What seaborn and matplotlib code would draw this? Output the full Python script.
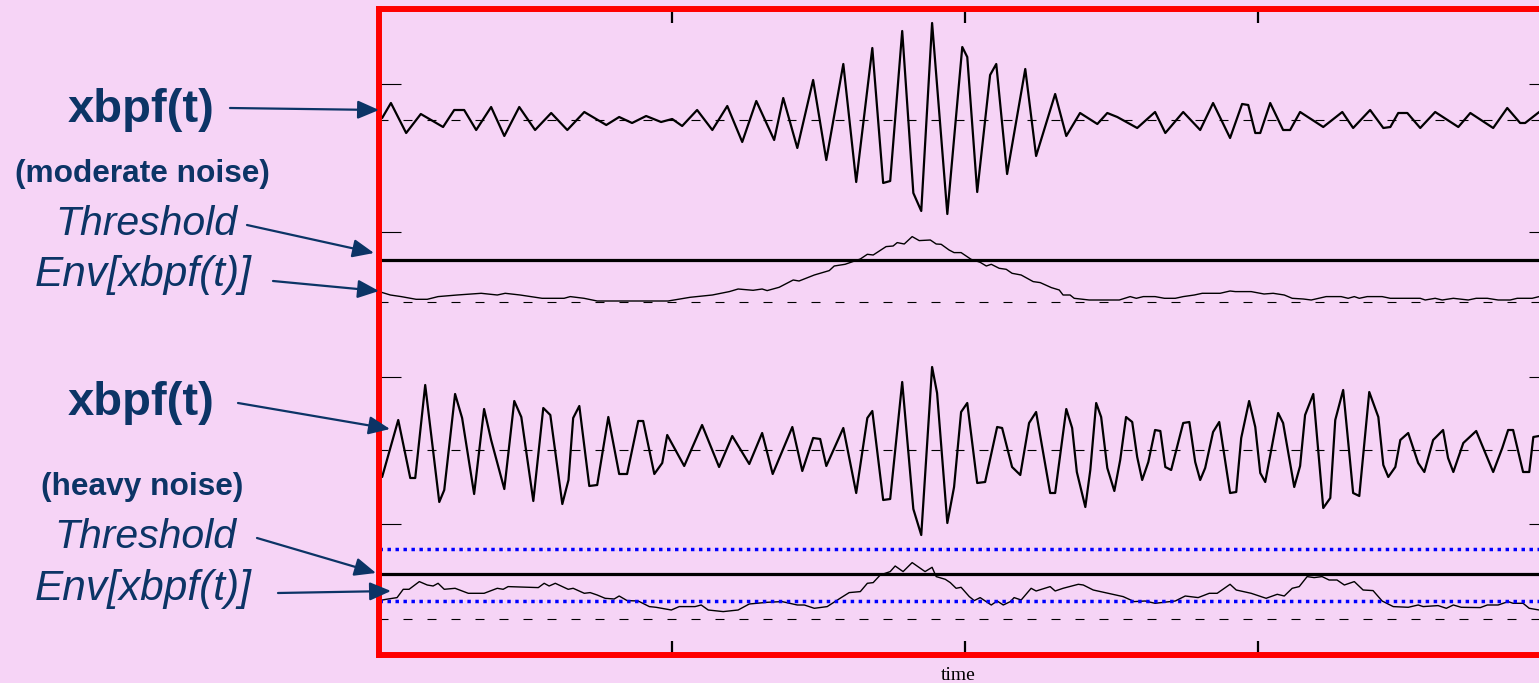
"""
Envelope detector demo: band-passed signal, its envelope and the detection
threshold, for moderate and heavy noise.
"""

import numpy as np
import matplotlib
matplotlib.use('Agg')
import matplotlib.pyplot as plt
from matplotlib.patches import FancyArrowPatch
import seaborn as sns

# =====================================================
# DATA (time in ms, amplitudes relative to each trace baseline)
# =====================================================

TIME_TICKS = [100, 200, 300]
Y_TICKS = [1.307, 2.777, 4.232, 5.704]

BASE_SIG1 = 5.347   # xbpf(t), moderate noise
BASE_ENV1 = 3.524   # Env[xbpf(t)], moderate noise
BASE_SIG2 = 2.047   # xbpf(t), heavy noise
BASE_ENV2 = 0.354   # Env[xbpf(t)], heavy noise

THRESH1 = 0.42
THRESH2 = 0.45
NOISE_HI = 0.70
NOISE_LO = 0.18

SIG1_T = [1.0, 4.0, 9.2, 14.2, 21.8, 25.6, 29.0, 33.1, 38.2, 42.7,
          47.8, 53.2, 58.7, 64.2, 70.0, 77.5, 81.9, 86.3, 91.1, 96.2,
          100.0, 103.4, 108.5, 113.7, 118.8, 123.9, 128.7, 134.8, 137.9, 142.7,
          148.1, 152.6, 158.4, 162.8, 168.3, 172.0, 174.4, 178.5, 182.3, 185.0,
          188.7, 193.9, 199.0, 200.7, 204.1, 208.5, 210.6, 214.3, 220.5, 224.2,
          230.7, 234.5, 239.2, 245.1, 248.5, 251.9, 258.7, 264.8, 268.3, 274.4,
          280.2, 284.6, 290.4, 294.5, 296.6, 299.0, 300.7, 304.1, 308.5, 310.9,
          314.3, 322.2, 328.7, 332.4, 338.2, 342.7, 345.1, 347.8, 350.9, 355.3,
          360.4, 368.3, 372.4, 380.2, 385.0, 389.4, 391.1, 395.9, 400.3]
SIG1_V = [0.02, 0.17, -0.13, 0.06, -0.07, 0.10, 0.10, -0.10, 0.13, -0.16,
          0.13, -0.10, 0.07, -0.10, 0.08, -0.05, 0.03, -0.03, 0.04, -0.02,
          0.01, -0.06, 0.10, -0.10, 0.14, -0.22, 0.19, -0.20, 0.22, -0.28,
          0.40, -0.40, 0.56, -0.62, 0.72, -0.63, -0.61, 0.89, -0.73, -0.91,
          0.97, -0.94, 0.73, 0.63, -0.72, 0.45, 0.56, -0.54, 0.51, -0.36,
          0.26, -0.16, 0.07, -0.04, 0.07, 0.03, -0.08, 0.08, -0.13, 0.08,
          -0.10, 0.17, -0.18, 0.16, 0.15, -0.13, -0.13, 0.17, -0.10, -0.10,
          0.08, -0.07, 0.08, -0.08, 0.10, -0.08, -0.07, 0.07, 0.07, -0.08,
          0.08, -0.07, 0.07, -0.08, 0.12, -0.03, -0.03, 0.08, 0.0]

ENV1_T = [0.0, 3.8, 7.5, 12.6, 16.4, 20.1, 26.6, 34.8, 40.3, 43.0,
          48.1, 55.6, 63.1, 65.2, 69.9, 74.4, 98.6, 106.1, 113.7, 119.5,
          122.5, 127.6, 130.7, 132.4, 136.5, 141.3, 143.3, 148.5, 153.6, 155.3,
          159.0, 164.2, 166.6, 168.6, 173.0, 175.4, 176.8, 179.2, 181.9, 184.3,
          188.1, 190.1, 191.8, 194.5, 196.2, 198.6, 202.0, 205.1, 207.2, 208.9,
          211.6, 214.0, 216.0, 219.1, 223.2, 225.6, 229.4, 232.1, 233.4, 235.8,
          237.2, 242.3, 252.6, 256.3, 258.4, 260.8, 264.8, 268.0, 271.7, 274.4,
          278.2, 280.9, 287.0, 290.4, 292.2, 297.6, 302.0, 305.1, 308.9, 311.6,
          315.4, 318.1, 323.2, 328.3, 330.7, 332.8, 334.5, 337.2, 342.3, 345.1,
          355.3, 357.0, 360.4, 362.8, 366.6, 371.7, 374.4, 378.2, 381.9, 386.0,
          388.4, 393.5, 395.9, 400.3]
ENV1_V = [0.107, 0.073, 0.057, 0.030, 0.030, 0.057, 0.073, 0.090, 0.073, 0.090,
          0.073, 0.040, 0.040, 0.057, 0.040, 0.013, 0.013, 0.050, 0.073, 0.107,
          0.133, 0.120, 0.133, 0.117, 0.150, 0.223, 0.213, 0.273, 0.317, 0.363,
          0.380, 0.433, 0.480, 0.473, 0.557, 0.563, 0.597, 0.583, 0.657, 0.617,
          0.623, 0.583, 0.580, 0.523, 0.497, 0.497, 0.430, 0.400, 0.363, 0.380,
          0.340, 0.330, 0.290, 0.273, 0.207, 0.197, 0.147, 0.123, 0.073, 0.073,
          0.040, 0.023, 0.023, 0.057, 0.040, 0.057, 0.057, 0.040, 0.040, 0.057,
          0.073, 0.090, 0.090, 0.113, 0.107, 0.107, 0.083, 0.090, 0.073, 0.040,
          0.033, 0.023, 0.057, 0.057, 0.040, 0.057, 0.040, 0.057, 0.057, 0.040,
          0.040, 0.023, 0.040, 0.023, 0.040, 0.023, 0.040, 0.040, 0.023, 0.023,
          0.040, 0.040, 0.057, 0.050]

SIG2_T = [1.0, 6.5, 10.6, 12.3, 15.7, 20.5, 22.2, 25.9, 28.3, 32.4,
          35.8, 38.2, 42.7, 46.1, 48.5, 52.6, 56.0, 58.4, 62.5, 64.6,
          66.2, 68.3, 71.7, 74.4, 78.2, 81.9, 84.6, 88.4, 90.1, 93.9,
          96.6, 98.3, 104.1, 110.2, 116.0, 120.5, 126.3, 130.7, 134.3, 141.0,
          144.4, 148.1, 150.5, 152.6, 158.4, 162.8, 166.6, 168.3, 172.0, 174.4,
          178.5, 182.3, 185.0, 188.7, 190.4, 193.9, 196.2, 198.6, 200.7, 204.1,
          206.8, 210.9, 212.6, 216.0, 218.8, 221.8, 224.2, 229.0, 230.7, 234.5,
          236.5, 238.1, 241.0, 242.7, 244.7, 246.4, 248.5, 250.9, 252.9, 254.9,
          257.0, 258.7, 260.4, 262.5, 264.8, 266.6, 268.3, 270.3, 274.4, 276.5,
          278.5, 280.2, 281.9, 284.6, 286.7, 290.4, 292.5, 294.2, 296.9, 299.0,
          300.7, 302.4, 306.8, 308.5, 312.3, 314.3, 316.0, 318.8, 322.2, 324.6,
          326.3, 329.0, 332.4, 334.5, 337.9, 341.0, 342.7, 344.4, 346.8, 348.5,
          351.2, 354.6, 356.7, 359.7, 363.1, 364.8, 366.6, 370.0, 374.4, 380.2,
          383.3, 385.3, 387.0, 390.4, 392.5, 393.9, 396.0, 400.3]
SIG2_V = [-0.27, 0.30, -0.28, -0.28, 0.65, -0.52, -0.40, 0.56, 0.32, -0.44,
          0.41, 0.10, -0.39, 0.49, 0.33, -0.51, 0.42, 0.35, -0.54, -0.30,
          0.32, 0.44, -0.36, -0.35, 0.33, -0.24, -0.24, 0.29, 0.29, -0.24,
          -0.13, 0.15, -0.16, 0.25, -0.17, 0.14, -0.14, 0.17, -0.24, 0.23,
          -0.21, 0.12, 0.11, -0.16, 0.22, -0.43, 0.32, 0.39, -0.50, -0.49,
          0.68, -0.59, -0.85, 0.83, 0.57, -0.73, -0.37, 0.38, 0.47, -0.33,
          -0.32, 0.23, 0.22, -0.17, -0.25, 0.27, 0.38, -0.43, -0.43, 0.41,
          0.22, -0.22, -0.57, -0.20, 0.47, 0.33, -0.18, -0.41, -0.10, 0.33,
          0.28, -0.07, -0.30, -0.12, 0.20, 0.19, -0.17, -0.20, 0.27, 0.28,
          -0.12, -0.30, -0.18, 0.18, 0.28, -0.43, -0.42, 0.12, 0.49, 0.23,
          -0.23, -0.32, 0.37, 0.27, -0.37, -0.16, 0.35, 0.56, -0.58, -0.48,
          0.30, 0.60, -0.43, -0.46, 0.58, 0.33, -0.15, -0.27, -0.17, 0.10,
          0.17, -0.13, -0.22, 0.10, 0.20, -0.08, -0.22, 0.07, 0.19, -0.22,
          0.02, 0.20, 0.20, -0.22, -0.22, 0.13, 0.14, 0.18]

ENV2_T = [0.0, 2.4, 6.1, 8.2, 10.2, 13.7, 16.4, 18.4, 20.1, 22.2,
          25.9, 30.4, 35.8, 40.3, 42.3, 44.0, 54.3, 56.3, 58.0, 60.1,
          64.5, 66.2, 70.0, 72.0, 74.4, 77.1, 80.2, 81.9, 84.6, 88.4,
          92.2, 94.5, 99.7, 102.4, 107.8, 109.9, 112.3, 117.4, 122.5, 126.3,
          132.4, 137.5, 142.7, 145.1, 148.5, 152.9, 157.3, 160.4, 164.2, 166.6,
          168.6, 171.0, 174.4, 176.1, 178.8, 181.9, 186.3, 188.7, 190.1, 193.2,
          194.9, 196.9, 198.6, 201.4, 203.1, 205.1, 208.9, 210.9, 213.0, 215.4,
          216.7, 219.1, 222.5, 224.2, 229.0, 230.7, 233.4, 238.6, 240.3, 243.7,
          248.8, 253.9, 257.7, 261.4, 264.8, 271.7, 275.1, 279.5, 283.3, 286.0,
          290.4, 292.5, 297.6, 302.7, 306.5, 308.9, 311.6, 314.0, 316.7, 319.1,
          321.8, 324.2, 326.9, 329.4, 332.8, 335.8, 339.2, 342.3, 346.1, 351.2,
          354.6, 356.3, 361.4, 364.2, 366.6, 369.3, 375.8, 378.2, 381.9, 385.3,
          387.0, 390.4, 392.5, 395.9, 400.3]
ENV2_V = [0.187, 0.200, 0.217, 0.300, 0.300, 0.377, 0.343, 0.333, 0.360, 0.300,
          0.310, 0.260, 0.260, 0.310, 0.300, 0.327, 0.317, 0.360, 0.333, 0.360,
          0.300, 0.310, 0.260, 0.267, 0.243, 0.210, 0.203, 0.233, 0.187, 0.183,
          0.127, 0.120, 0.093, 0.127, 0.127, 0.143, 0.093, 0.077, 0.093, 0.153,
          0.170, 0.177, 0.143, 0.143, 0.110, 0.127, 0.210, 0.267, 0.277, 0.360,
          0.367, 0.443, 0.477, 0.533, 0.477, 0.567, 0.477, 0.520, 0.427, 0.400,
          0.367, 0.310, 0.320, 0.227, 0.187, 0.217, 0.143, 0.183, 0.143, 0.177,
          0.217, 0.193, 0.310, 0.283, 0.327, 0.283, 0.310, 0.350, 0.343, 0.293,
          0.260, 0.227, 0.177, 0.183, 0.160, 0.183, 0.233, 0.217, 0.260, 0.260,
          0.350, 0.293, 0.260, 0.210, 0.250, 0.233, 0.310, 0.327, 0.427, 0.417,
          0.427, 0.393, 0.393, 0.343, 0.377, 0.293, 0.287, 0.183, 0.127, 0.120,
          0.143, 0.127, 0.137, 0.110, 0.143, 0.120, 0.117, 0.143, 0.143, 0.177,
          0.160, 0.160, 0.110, 0.093, 0.090]

# left-hand labels: (text, style, size, left px, baseline px)
LABELS = [
    ('xbpf(t)', 'bold', 34, 68, 122),
    ('(moderate noise)', 'boldsmall', 22.8, 15, 182),
    ('Threshold', 'italic', 29.5, 55, 235),
    ('Env[xbpf(t)]', 'italic', 30.5, 35, 286),
    ('xbpf(t)', 'bold', 34, 68, 415),
    ('(heavy noise)', 'boldsmall', 22.8, 41, 495),
    ('Threshold', 'italic', 29.5, 54, 548),
    ('Env[xbpf(t)]', 'italic', 30.5, 35, 600),
]
# arrows: (start px, tip px)
ARROWS = [
    ((230, 108), (379, 110)),
    ((247, 225), (374, 253)),
    ((273, 281), (379, 291)),
    ((238, 403), (390, 429)),
    ((257, 538), (376, 573)),
    ((278, 593), (391, 591)),
]

# =====================================================
# STYLE
# =====================================================

W, H = 1539, 683
BG = '#F6D4F6'
NAVY = '#0C3466'
RED = '#FF0000'

sns.set_style('ticks')
plt.rcParams['font.family'] = ['Liberation Sans', 'DejaVu Sans']


def fx(px):
    return px / W


def fy(py):
    return 1 - py / H


fig = plt.figure(figsize=(W / 100, H / 100), dpi=100, facecolor=BG)
ax_left, ax_top, ax_bottom = 379.2, 8.7, 654.7
ax = fig.add_axes([fx(ax_left), fy(ax_bottom), 1172 / W, (ax_bottom - ax_top) / H])
ax.set_facecolor(BG)

# traces
sns.lineplot(x=SIG1_T, y=np.array(SIG1_V) + BASE_SIG1, ax=ax, color='black',
             lw=1.6, estimator=None, sort=False)
sns.lineplot(x=ENV1_T, y=np.array(ENV1_V) + BASE_ENV1, ax=ax, color='black',
             lw=1.0, estimator=None, sort=False)
sns.lineplot(x=SIG2_T, y=np.array(SIG2_V) + BASE_SIG2, ax=ax, color='black',
             lw=1.6, estimator=None, sort=False)
sns.lineplot(x=ENV2_T, y=np.array(ENV2_V) + BASE_ENV2, ax=ax, color='black',
             lw=1.0, estimator=None, sort=False)

# zero lines
for base in (BASE_SIG1, BASE_ENV1, BASE_SIG2, BASE_ENV2):
    ax.axhline(base, color='black', lw=0.8, ls=(0, (8.1, 13.5)))

# thresholds
ax.axhline(BASE_ENV1 + THRESH1, color='black', lw=2.3)
ax.axhline(BASE_ENV2 + THRESH2, color='black', lw=2.3)
for lvl in (NOISE_HI, NOISE_LO):
    ax.axhline(BASE_ENV2 + lvl, color='#0000FF', lw=2.5, ls=(0, (1, 1.3)),
               dash_capstyle='butt')

ax.set_xlim(0, 400)
ax.set_ylim(0, 6.46)
ax.set_xticks(TIME_TICKS)
ax.set_yticks(Y_TICKS)
ax.tick_params(axis='x', direction='in', length=10, width=1.6, color='black',
               top=True, bottom=True, labelbottom=False)
ax.tick_params(axis='y', direction='in', length=16, width=0.8, color='black',
               left=True, right=True, labelleft=False)
ax.set_xlabel('')
ax.set_ylabel('')
for sp in ax.spines.values():
    sp.set_color(RED)
    sp.set_linewidth(4.3)
    sp.set_visible(True)

fig.text(fx(958), fy(680), 'time', ha='center', va='baseline',
         family='Liberation Serif', fontsize=14, color='black')

# left labels and arrows
for text, style, size, lx, by in LABELS:
    weight = 'bold' if style.startswith('bold') else 'normal'
    fstyle = 'italic' if style == 'italic' else 'normal'
    fig.text(fx(lx), fy(by), text, ha='left', va='baseline', color=NAVY,
             fontsize=size, fontweight=weight, fontstyle=fstyle)

for (x0, y0), (x1, y1) in ARROWS:
    arr = FancyArrowPatch((fx(x0), fy(y0)), (fx(x1), fy(y1)),
                          transform=fig.transFigure,
                          arrowstyle='-|>,head_length=0.65,head_width=0.28',
                          mutation_scale=20, lw=1.6, color=NAVY,
                          shrinkA=0, shrinkB=0, zorder=5)
    fig.add_artist(arr)

fig.savefig('out.png', dpi=100, facecolor=BG)
